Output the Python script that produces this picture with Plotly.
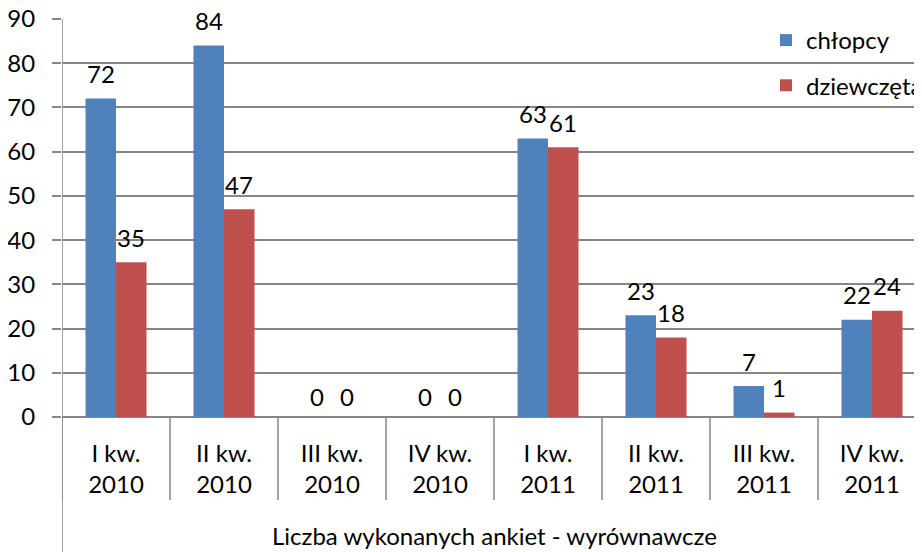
import plotly.graph_objects as go

categories = ["I kw.<br>2010", "II kw.<br>2010", "III kw.<br>2010", "IV kw.<br>2010",
              "I kw.<br>2011", "II kw.<br>2011", "III kw.<br>2011", "IV kw.<br>2011"]
chlopcy = [72, 84, 0, 0, 63, 23, 7, 22]
dziewczeta = [35, 47, 0, 0, 61, 18, 1, 24]
y_ticks = [0, 10, 20, 30, 40, 50, 60, 70, 80, 90]
x_title = "Liczba wykonanych ankiet - wyrównawcze"

FONT = "Lato"
FS = 24
GRID = "#868686"
W, H = 922, 552
# the html page body has an 8px margin, compensate
L, T = 54, 11
B = H - 409
plot_h = H - T - B
n = len(categories)
cat_w = 108
plot_w = W - L
BARGAP = 0.435
bw = (1 - BARGAP) / 2

xs = list(range(n))
fig = go.Figure()
fig.add_trace(go.Bar(x=xs, y=chlopcy, name="chłopcy", marker_color="#4F81BD",
                     legendgroup="a", marker_line_width=0))
fig.add_trace(go.Bar(x=xs, y=dziewczeta, name="dziewczęta", marker_color="#C0504D",
                     legendgroup="b", marker_line_width=0))

x_max = -0.5 + plot_w / cat_w

shapes = []
for i in range(n + 1):
    shapes.append(dict(type="line", xref="x", yref="paper", x0=i - 0.5, x1=i - 0.5,
                       y0=0, y1=-83 / plot_h, line=dict(color=GRID, width=1.5)))
shapes.append(dict(type="line", xref="x", yref="paper", x0=-0.5, x1=-0.5,
                   y0=1, y1=-B / plot_h, line=dict(color=GRID, width=1.5)))

annotations = [dict(text=x_title, xref="x", yref="paper", x=(n - 1) / 2, y=-118 / plot_h,
                    xanchor="center", yanchor="middle", showarrow=False,
                    font=dict(size=FS, family=FONT, color="black"))]
for vals, off in ((chlopcy, -bw / 2), (dziewczeta, bw / 2)):
    for i, v in enumerate(vals):
        annotations.append(dict(text=str(v), x=i + off, y=v, xref="x", yref="y",
                                showarrow=False, yanchor="middle", xanchor="center",
                                yshift=25 if v > 0 else 21,
                                font=dict(size=FS, family=FONT, color="black")))

fig.update_layout(
    width=W, height=H,
    margin=dict(l=L, r=0, t=T, b=B, autoexpand=False),
    paper_bgcolor="white", plot_bgcolor="white",
    font=dict(family=FONT, size=FS, color="black"),
    barmode="group", bargap=BARGAP, bargroupgap=0,
    showlegend=True,
    legend=dict(x=(758 - L) / plot_w, y=1 + 1 / plot_h, xanchor="left", yanchor="top",
                bgcolor="rgba(0,0,0,0)", font=dict(size=FS, family=FONT),
                tracegroupgap=11, traceorder="grouped"),
    shapes=shapes,
    annotations=annotations,
)
fig.update_xaxes(range=[-0.5, x_max], tickmode="array", tickvals=xs,
                 ticktext=categories, showgrid=False, ticks="", showline=False,
                 zeroline=False, tickfont=dict(size=FS, family=FONT), automargin=False,
                 ticklabelstandoff=20, ticklabeloverflow="allow")
fig.update_yaxes(range=[0, 90], tickmode="array", tickvals=y_ticks, showgrid=True,
                 gridcolor=GRID, gridwidth=1.5, ticks="outside", ticklen=9, tickcolor=GRID,
                 tickwidth=1.5, showline=False, zeroline=True, zerolinecolor=GRID,
                 zerolinewidth=1.5, tickfont=dict(size=FS, family=FONT), ticklabelstandoff=12,
                 automargin=False, ticklabeloverflow="allow")

fig.write_html("out.html")
